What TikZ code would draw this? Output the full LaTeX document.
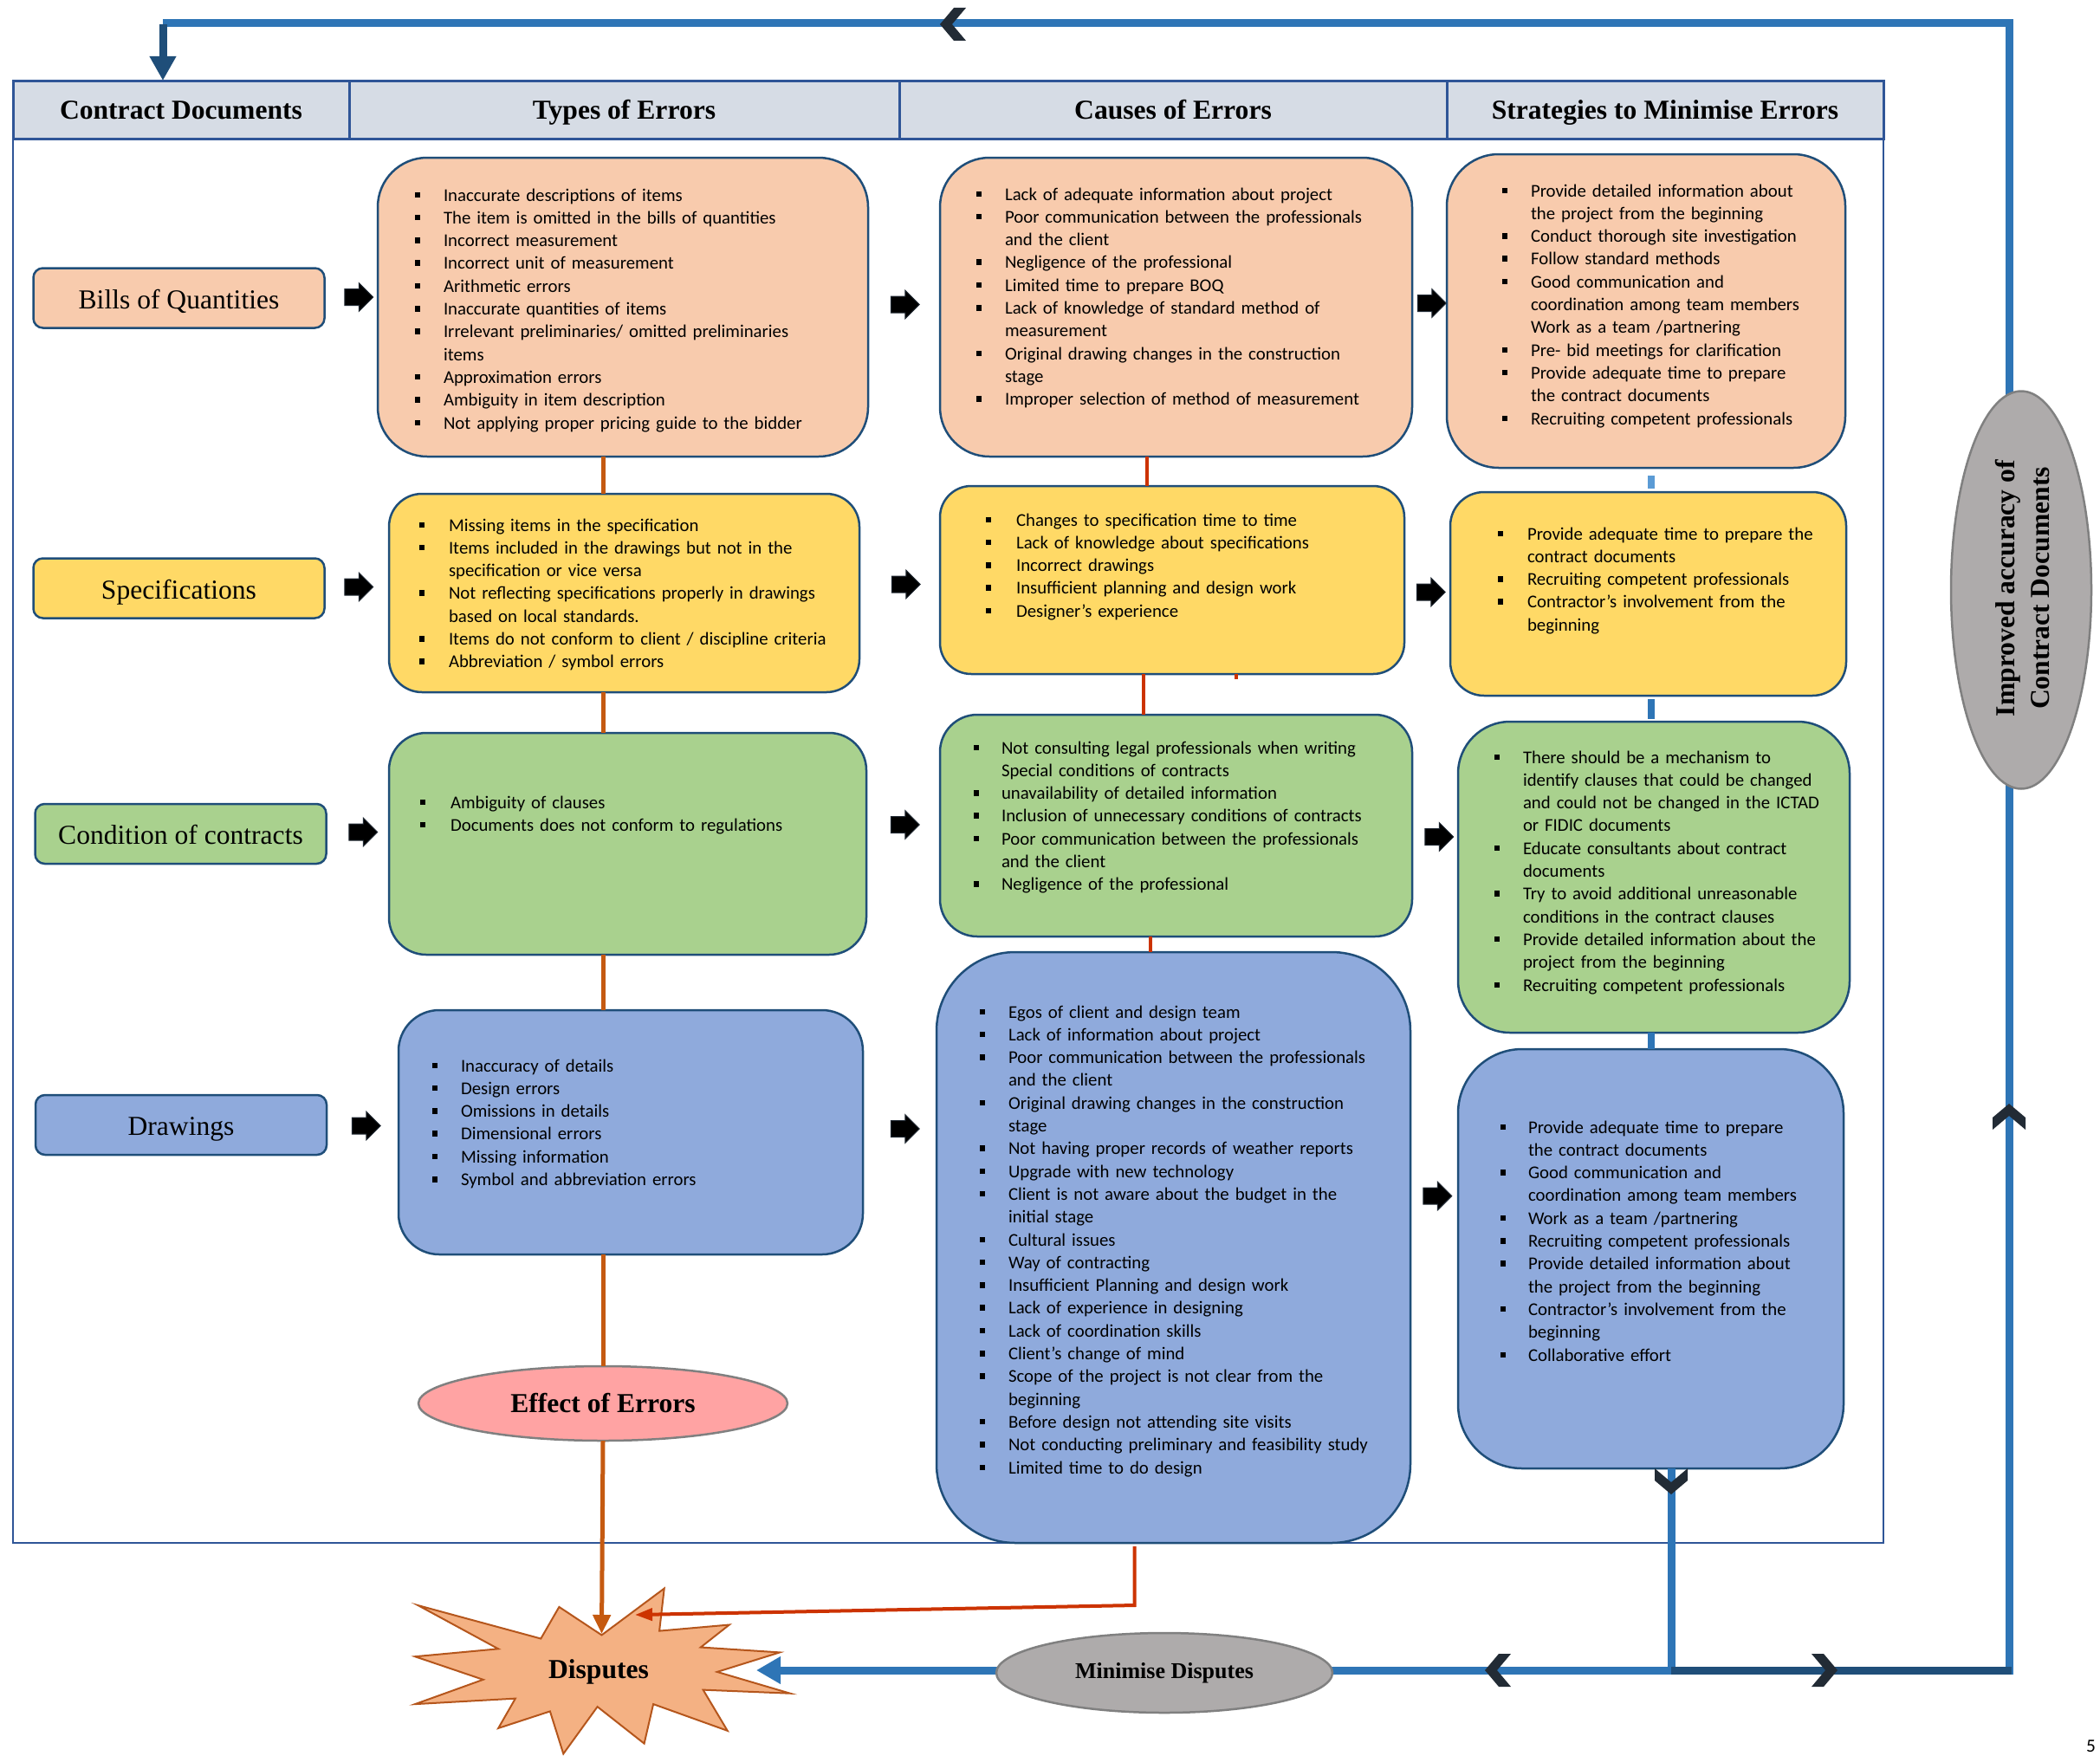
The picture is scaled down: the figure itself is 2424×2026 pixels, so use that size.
\documentclass[tikz,border=0pt]{standalone}
\usepackage{fontspec}
\setmainfont{Liberation Serif}
\newfontfamily\calfont{Carlito}
\usetikzlibrary{arrows.meta,shapes.geometric,shapes.arrows}
\definecolor{peach}{HTML}{F8CBAD}
\definecolor{yel}{HTML}{FFD966}
\definecolor{grn}{HTML}{A9D18E}
\definecolor{blu}{HTML}{8FAADC}
\definecolor{hdr}{HTML}{D6DCE5}
\definecolor{edge}{HTML}{1F4E79}
\definecolor{frm}{HTML}{2F5597}
\definecolor{loopb}{HTML}{2E75B6}
\definecolor{loopd}{HTML}{1F4E79}
\definecolor{chevc}{HTML}{222B35}
\definecolor{orng}{HTML}{C55A11}
\definecolor{redl}{HTML}{CC3300}
\definecolor{lightb}{HTML}{5B9BD5}
\definecolor{pinkf}{HTML}{FFA3A3}
\definecolor{grayf}{HTML}{AEABAB}
\definecolor{grayd}{HTML}{808080}
\definecolor{burstf}{HTML}{F4B183}
\definecolor{burstd}{HTML}{B5561C}
\newlength\bgap
\newcommand\bsq{\raisebox{4pt}{\rule{6pt}{6.5pt}}}
\newcommand\realitm{\par\hangindent=\bgap\hangafter=1\noindent\makebox[\bgap][l]{\bsq}\ignorespaces}
\newcommand\fitm{\hangindent=\bgap\hangafter=1\noindent\makebox[\bgap][l]{\bsq}\let\itm\realitm\ignorespaces}
\newcommand\itm{}
\newcommand\nl{\newline}
\tikzset{
 cbox/.style={draw=edge,line width=2.5pt,inner sep=0pt,outer sep=0pt},
 docbox/.style={cbox,rounded corners=11pt,minimum width=336pt,minimum height=69pt,text height=24pt,text depth=0pt,font=\fontsize{31.6}{38}\selectfont},
 lsttext/.style={inner sep=0pt,outer sep=0pt,text width=800pt,font=\calfont\fontsize{20.8}{26.3}\selectfont},
 hdcell/.style={draw=frm,line width=3pt,fill=hdr,inner sep=0pt,outer sep=0pt,minimum height=67pt,text height=25pt,text depth=4pt,font=\bfseries\fontsize{31.6}{38}\selectfont},
 barrow/.style={single arrow,fill=black,draw=chevc,line width=1pt,minimum height=33pt,minimum width=32pt,single arrow head extend=7pt,inner xsep=0pt,inner ysep=9pt,outer sep=0pt},
 orl/.style={draw=orng,line width=5pt},
 redln/.style={draw=redl,line width=4pt},
 stl/.style={draw=loopb,line width=8pt},
 loopl/.style={draw=loopb,line width=9pt},
 loopdk/.style={draw=loopd,line width=9pt},
 gell/.style={ellipse,draw=grayd,line width=2.5pt,inner sep=0pt,outer sep=0pt},
 chev/.pic={\fill[chevc] (-15,0) -- (1,-19) -- (15,-19) -- (-1,0) -- (15,19) -- (1,19) -- cycle;},
}
\newcommand\bx[7]{\node[cbox,fill=#6,rounded corners=#7pt,minimum width={(#4-#2)*1pt},minimum height={(#5-#3)*1pt}] (#1) at ({(#2+#4)/2},{(#3+#5)/2}) {};}
\newcommand\lst[5]{\node[lsttext,anchor=base west] (#1) at (#2,#3) {\setlength\bgap{#4pt}\let\itm\fitm#5\par};}
\begin{document}
\begin{tikzpicture}[x=1pt,y=-1pt]
\useasboundingbox (0,0) rectangle (2424,2026);
% frame and header
\node[draw=frm,line width=2.5pt,minimum width=2159pt,minimum height=1688pt,inner sep=0pt] (frame) at (1094.5,937) {};
\node[hdcell,minimum width=388pt] (hd1) at (209,126.5) {Contract Documents};
\node[hdcell,minimum width=635pt] (hd2) at (720.5,126.5) {Types of Errors};
\node[hdcell,minimum width=632pt] (hd3) at (1354,126.5) {Causes of Errors};
\node[hdcell,minimum width=504pt] (hd4) at (1922,126.5) {Strategies to Minimise Errors};
% content boxes
\bx{boqT}{436}{182}{1002}{527}{peach}{57}
\bx{boqC}{1085}{182}{1630}{527}{peach}{57}
\bx{boqS}{1670}{178}{2130}{540}{peach}{60}
\bx{specT}{449}{570}{992}{799}{yel}{38}
\bx{specC}{1085}{561}{1621}{778}{yel}{36}
\bx{specS}{1674}{568}{2131}{803}{yel}{39}
\bx{condT}{449}{846}{1000}{1102}{grn}{43}
\bx{condC}{1085}{825}{1630}{1081}{grn}{43}
\bx{condS}{1683}{833}{2135}{1192}{grn}{60}
\bx{drwT}{460}{1166}{996}{1448}{blu}{47}
\bx{drwC}{1081}{1099}{1628}{1781}{blu}{91}
\bx{drwS}{1683}{1211}{2128}{1695}{blu}{74}
% document boxes
\node[docbox,fill=peach] (boq) at (206.5,344) {Bills of Quantities};
\node[docbox,fill=yel] (spec) at (206.5,679) {Specifications};
\node[docbox,fill=grn] (cond) at (208.5,962.5) {Condition of contracts};
\node[docbox,fill=blu] (drw) at (209,1298.5) {Drawings};
% block arrows
\node[barrow] (a11) at (409.5,343) {};
\node[barrow] (a12) at (1040,351.5) {};
\node[barrow] (a13) at (1648,350) {};
\node[barrow] (a21) at (409.5,677.5) {};
\node[barrow] (a22) at (1041,674.5) {};
\node[barrow] (a23) at (1647,683.5) {};
\node[barrow] (a31) at (414.5,960.5) {};
\node[barrow] (a32) at (1040,952) {};
\node[barrow] (a33) at (1656.5,966) {};
\node[barrow] (a41) at (418,1299.5) {};
\node[barrow] (a42) at (1040,1303) {};
\node[barrow] (a43) at (1654.5,1380.5) {};
% lists
\lst{tBOQ}{479}{232}{33}{\itm Inaccurate descriptions of items
\itm The item is omitted in the bills of quantities
\itm Incorrect measurement
\itm Incorrect unit of measurement
\itm Arithmetic errors
\itm Inaccurate quantities of items
\itm Irrelevant preliminaries/ omitted preliminaries\nl items
\itm Approximation errors
\itm Ambiguity in item description
\itm Not applying proper pricing guide to the bidder}
\lst{cBOQ}{1127}{231}{33}{\itm Lack of adequate information about project
\itm Poor communication between the professionals\nl and the client
\itm Negligence of the professional
\itm Limited time to prepare BOQ
\itm Lack of knowledge of standard method of\nl measurement
\itm Original drawing changes in the construction\nl stage
\itm Improper selection of method of measurement}
\lst{sBOQ}{1734}{227}{33}{\itm Provide detailed information about\nl the project from the beginning
\itm Conduct thorough site investigation
\itm Follow standard methods
\itm Good communication and\nl coordination among team members\nl Work as a team /partnering
\itm Pre- bid meetings for clarification
\itm Provide adequate time to prepare\nl the contract documents
\itm Recruiting competent professionals}
\lst{tSpec}{484}{613}{34}{\itm Missing items in the specification
\itm Items included in the drawings but not in the\nl specification or vice versa
\itm Not reflecting specifications properly in drawings\nl based on local standards.
\itm Items do not conform to client / discipline criteria
\itm Abbreviation / symbol errors}
\lst{cSpec}{1138}{607}{35}{\itm Changes to specification time to time
\itm Lack of knowledge about specifications
\itm Incorrect drawings
\itm Insufficient planning and design work
\itm Designer’s experience}
\lst{sSpec}{1729}{623}{34}{\itm Provide adequate time to prepare the\nl contract documents
\itm Recruiting competent professionals
\itm Contractor’s involvement from the\nl beginning}
\lst{tCond}{485}{933}{35}{\itm Ambiguity of clauses
\itm Documents does not conform to regulations}
\lst{cCond}{1124}{870}{32}{\itm Not consulting legal professionals when writing\nl Special conditions of contracts
\itm unavailability of detailed information
\itm Inclusion of unnecessary conditions of contracts
\itm Poor communication between the professionals\nl and the client
\itm Negligence of the professional}
\lst{sCond}{1725}{881}{33}{\itm There should be a mechanism to\nl identify clauses that could be changed\nl and could not be changed in the ICTAD\nl or FIDIC documents
\itm Educate consultants about contract\nl documents
\itm Try to avoid additional unreasonable\nl conditions in the contract clauses
\itm Provide detailed information about the\nl project from the beginning
\itm Recruiting competent professionals}
\lst{tDrw}{499}{1237}{33}{\itm Inaccuracy of details
\itm Design errors
\itm Omissions in details
\itm Dimensional errors
\itm Missing information
\itm Symbol and abbreviation errors}
\lst{cDrw}{1131}{1175}{33}{\itm Egos of client and design team
\itm Lack of information about project
\itm Poor communication between the professionals\nl and the client
\itm Original drawing changes in the construction\nl stage
\itm Not having proper records of weather reports
\itm Upgrade with new technology
\itm Client is not aware about the budget in the\nl initial stage
\itm Cultural issues
\itm Way of contracting
\itm Insufficient Planning and design work
\itm Lack of experience in designing
\itm Lack of coordination skills
\itm Client’s change of mind
\itm Scope of the project is not clear from the\nl beginning
\itm Before design not attending site visits
\itm Not conducting preliminary and feasibility study
\itm Limited time to do design}
\lst{sDrw}{1732}{1308}{32}{\itm Provide adequate time to prepare\nl the contract documents
\itm Good communication and\nl coordination among team members
\itm Work as a team /partnering
\itm Recruiting competent professionals
\itm Provide detailed information about\nl the project from the beginning
\itm Contractor’s involvement from the\nl beginning
\itm Collaborative effort}
% disputes starburst
\draw[fill=burstf,draw=burstd,line width=2pt,line join=miter] (482.6,1853.1) -- (624.3,1891.5) -- (645.4,1854.9) -- (694.5,1887.4) -- (766.7,1833.6) -- (761.1,1882.6) -- (841.8,1875.5) -- (808.8,1901.5) -- (900.0,1907.4) -- (827.8,1929.9) -- (912.0,1954.7) -- (811.6,1950.6) -- (839.7,1997.8) -- (754.1,1967.1) -- (743.6,2012.6) -- (689.6,1970.1) -- (650.3,2024.4) -- (634.9,1975.4) -- (575.2,1994.9) -- (594.9,1960.6) -- (479.1,1967.1) -- (557.7,1938.8) -- (479.1,1912.2) -- (575.2,1903.3) -- cycle;
\node[font=\bfseries\fontsize{31.6}{38}\selectfont] (disp) at (691,1930) {Disputes};
\coordinate (dispTop) at (694.5,1886);
\coordinate (dispRed) at (733,1864);
\coordinate (dispR) at (873,1928);
% effect ellipse
\node[gell,fill=pinkf,minimum width=426pt,minimum height=86pt,font=\bfseries\fontsize{31.6}{38}\selectfont] (effect) at (696,1620) {Effect of Errors};
% orange connectors
\draw[orl] (effect |- boqT.south) -- (effect |- specT.north);
\draw[orl] (effect |- specT.south) -- (effect |- condT.north);
\draw[orl] (effect |- condT.south) -- (effect |- drwT.north);
\draw[orl] (effect |- drwT.south) -- (effect.north);
\draw[orl,-{Triangle[length=22pt,width=20pt]}] (effect.south) -- (dispTop);
% red connectors
\draw[redln] ([xshift=-34pt]boqC.south) -- ([xshift=-34pt]boqC.south |- specC.north);
\draw[redln] ([xshift=-33pt]specC.south) -- ([xshift=-33pt]specC.south |- condC.north);
\draw[redln] ([xshift=74pt]specC.south) -- ++(0,6);
\draw[redln] ([xshift=-30pt]condC.south) -- ([xshift=-30pt]condC.south |- drwC.north);
\draw[redln,-{Triangle[length=20pt,width=14pt]}] ([xshift=-45pt,yshift=-4pt]drwC.south) -- ++(0,68) -- (dispRed);
% strategy connectors
\draw[stl,draw=lightb,shorten <=9pt,shorten >=4pt] (boqS.south -| drwS.north) -- (specS.north -| drwS.north);
\draw[stl,shorten <=4pt,shorten >=3pt] (specS.south -| drwS.north) -- (condS.north -| drwS.north);
\draw[stl] (condS.south -| drwS.north) -- (drwS.north);
% feedback loop
\coordinate (j1) at (1929,1928);
\coordinate (c1) at (2319,1928);
\coordinate (c2) at (2319,27);
\coordinate (c3) at (188,27);
\draw[loopl] ([xshift=23.5pt]drwS.south) -- (j1);
\draw[loopl,-{Triangle[length=28pt,width=30pt]}] (j1) -- (dispR);
\draw[loopl] ([yshift=-4.5pt]c1) -- (c2) -- (c3);
\draw[loopdk] (j1) -- ([xshift=3pt]c1);
\draw[loopdk,-{Triangle[length=28pt,width=29pt]}] ([yshift=-1pt]c3) -- (c3 |- hd1.north);
% ellipses on loop
\node[gell,fill=grayf,minimum width=388pt,minimum height=92pt,font=\bfseries\fontsize{26}{31}\selectfont] (mini) at (1344,1931) {Minimise Disputes};
\node[gell,fill=grayf,minimum width=162pt,minimum height=459pt] (impr) at (2333,681) {};
\node[rotate=90,align=center,font=\bfseries\fontsize{31.6}{40}\selectfont] (imprtxt) at (2335,679) {Improved accuracy of\\Contract Documents};
% chevrons
\pic at (1100,28) {chev};
\pic at (1729,1928) {chev};
\pic[rotate=180] at (2106,1928) {chev};
\pic[rotate=90] at (1929,1710) {chev};
\pic[rotate=-90] at (2319,1289) {chev};
% page number
\node[font=\calfont\fontsize{21.4}{26}\selectfont,anchor=base west,inner sep=0pt] (pgno) at (2408,2022) {5};
\end{tikzpicture}
\end{document}
